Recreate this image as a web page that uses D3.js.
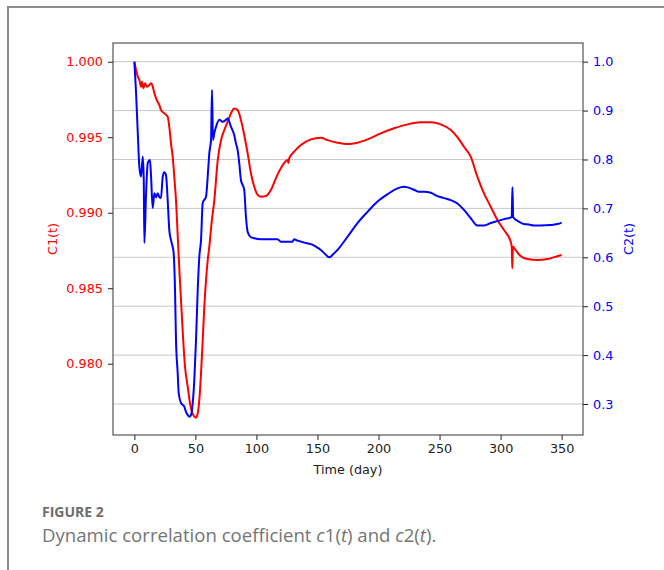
<!DOCTYPE html>
<html>
<head>
<meta charset="utf-8">
<script src="https://cdn.jsdelivr.net/npm/d3@7"></script>
<style>
  body { margin: 0; background: #fff; }
  svg { display: block; }
</style>
</head>
<body>
<div id="chart"></div>
<script>
// c1(t)
const dayC1 = [0, 1.4, 2.8, 4.1, 5.5, 6.3, 7.4, 8.8, 10.1, 12.3, 13.7, 15.1, 16.4, 17.8, 19.1, 20.5, 21.8, 24.5, 27.3, 28.6,
  30, 31.4, 32.7, 34.1, 35.5, 37, 38.5, 40, 41.5, 43.7, 45.6, 47.2, 49.1, 50.5, 51.9, 53.2, 54.6, 56, 57.3, 58.7,
  60.1, 61.4, 63.5, 65.5, 68.3, 71, 73.7, 76.4, 79.1, 81.8, 84.6, 87.3, 90, 92.8, 95.5, 98.2, 101, 103.6, 107.8, 111.8,
  115.9, 120, 125.5, 126.2, 126.8, 130.9, 136.4, 144.6, 152.8, 158.3, 166.4, 174.6, 182.8, 191, 201.9, 212.8, 223.7, 234.6, 242.8, 251,
  259.2, 264.6, 270, 275.5, 281, 286.4, 291.9, 297.4, 302.8, 308.3, 309.1, 309.6, 310.1, 312.3, 316.4, 321.9, 330.1, 338.3, 345.1, 350];
const valC1 = [1.0000, 0.99945, 0.99901, 0.99879, 0.99834, 0.99868, 0.99824, 0.99857, 0.99834, 0.99846, 0.99857, 0.99834, 0.99791, 0.99758, 0.99735, 0.99713, 0.9968, 0.99658, 0.99636, 0.9957,
  0.9946, 0.99371, 0.99238, 0.99084, 0.9885, 0.9860, 0.98377, 0.98157, 0.9798, 0.97848, 0.97737, 0.97682, 0.97649, 0.97642, 0.97671, 0.97759, 0.97936, 0.98157, 0.98377, 0.98554,
  0.98687, 0.98775, 0.9895, 0.99084, 0.99349, 0.99481, 0.99548, 0.99603, 0.99658, 0.99691, 0.9968, 0.99614, 0.99515, 0.99393, 0.99261, 0.99172, 0.99118, 0.99106, 0.99111, 0.9915,
  0.99228, 0.99294, 0.99349, 0.9933, 0.9936, 0.99404, 0.99448, 0.99486, 0.99497, 0.99481, 0.99464, 0.99455, 0.99464, 0.99486, 0.99526, 0.99559, 0.99585, 0.99599, 0.99599, 0.99585,
  0.99548, 0.9950, 0.99437, 0.99371, 0.99238, 0.99128, 0.9904, 0.98952, 0.98885, 0.98808, 0.98775, 0.98632, 0.98775, 0.98753, 0.98713, 0.98693, 0.98687, 0.98693, 0.98709, 0.9872];

// c2(t)
const dayC2 = [0, 1.4, 2.8, 4.1, 5.5, 6.9, 7.7, 8.2, 9.6, 11, 12.8, 13.7, 15, 16.4, 17.8, 19.1, 20.5, 21.8, 23.2, 24.5,
  25.9, 27.3, 28.6, 30, 31.4, 32.2, 33.3, 34.1, 35.5, 36.3, 38.2, 40.9, 42.3, 43.7, 45, 46.4, 47.2, 49.1, 50.5, 51.9,
  53.2, 54.6, 56, 58.7, 60.6, 61.4, 62.8, 63.6, 64.4, 65.5, 66.9, 69.6, 72.3, 75, 76.4, 79.1, 81.8, 83.2, 84.6, 85.9,
  87.3, 90, 91.4, 92.8, 95.5, 98.2, 103.6, 111.8, 117.3, 120, 125.5, 129.6, 130.9, 133.7, 139.1, 144.6, 148.7, 152.8, 156.9, 159.6,
  162.4, 166.4, 174.6, 182.8, 191, 199.2, 207.4, 215.5, 221, 223.7, 229.1, 233.2, 237.3, 242.8, 248.3, 253.7, 259.2, 264.6, 270, 275.5,
  281, 286.4, 291.9, 297.4, 302.8, 309.1, 309.7, 310.3, 315, 319.1, 323.2, 327.3, 332.8, 341, 346.5, 350];
const valC2 = [1.0, 0.936, 0.854, 0.785, 0.765, 0.806, 0.758, 0.629, 0.731, 0.793, 0.799, 0.764, 0.701, 0.731, 0.723, 0.731, 0.723, 0.721, 0.764, 0.774,
  0.768, 0.717, 0.656, 0.635, 0.621, 0.608, 0.533, 0.431, 0.363, 0.3225, 0.302, 0.2945, 0.284, 0.2775, 0.274, 0.2775, 0.288, 0.349, 0.431, 0.533,
  0.601, 0.635, 0.711, 0.724, 0.785, 0.813, 0.840, 0.942, 0.840, 0.854, 0.867, 0.881, 0.877, 0.881, 0.884, 0.867, 0.850, 0.833, 0.819, 0.793,
  0.758, 0.738, 0.683, 0.652, 0.641, 0.639, 0.637, 0.637, 0.637, 0.632, 0.632, 0.632, 0.637, 0.634, 0.630, 0.627, 0.622, 0.615, 0.605, 0.600,
  0.605, 0.615, 0.642, 0.670, 0.693, 0.714, 0.729, 0.741, 0.744, 0.743, 0.738, 0.734, 0.734, 0.732, 0.725, 0.721, 0.717, 0.710, 0.697, 0.680,
  0.665, 0.665, 0.670, 0.674, 0.678, 0.682, 0.743, 0.682, 0.673, 0.668, 0.667, 0.665, 0.665, 0.666, 0.668, 0.671];

const xTicks = [0, 50, 100, 150, 200, 250, 300, 350];
const leftTicks = [0.980, 0.985, 0.990, 0.995, 1.000];
const rightTicks = [0.3, 0.4, 0.5, 0.6, 0.7, 0.8, 0.9, 1.0];

const width = 664, height = 570;
const plot = { left: 113, right: 583, top: 43, bottom: 435 };
const font = "DejaVu Sans, sans-serif";

const svg = d3.select("#chart").append("svg")
  .attr("width", width)
  .attr("height", height);

// outer figure frame (left and top edges only)
svg.append("path")
  .attr("d", "M8,570 L8,7 L664,7")
  .attr("fill", "none")
  .attr("stroke", "#8c8c8c")
  .attr("stroke-width", 2);

const x = d3.scaleLinear().domain([-17.5, 367.5]).range([plot.left, plot.right]);
const yL = d3.scaleLinear().domain([0.97528, 1.00124]).range([plot.bottom, plot.top]);
const yR = d3.scaleLinear().domain([0.2366, 1.0382]).range([plot.bottom, plot.top]);

// horizontal grid from the right axis
svg.append("g")
  .selectAll("line")
  .data(rightTicks)
  .join("line")
  .attr("x1", plot.left).attr("x2", plot.right)
  .attr("y1", d => yR(d)).attr("y2", d => yR(d))
  .attr("stroke", "#c8c8c8")
  .attr("stroke-width", 1);

const c1 = dayC1.map((d, i) => [d, valC1[i]]);
const c2 = dayC2.map((d, i) => [d, valC2[i]]);

svg.append("path")
  .datum(c1)
  .attr("fill", "none")
  .attr("stroke", "#ff0000")
  .attr("stroke-width", 2)
  .attr("stroke-linejoin", "round")
  .attr("d", d3.line().curve(d3.curveMonotoneX).x(d => x(d[0])).y(d => yL(d[1])));

svg.append("path")
  .datum(c2)
  .attr("fill", "none")
  .attr("stroke", "#0000ff")
  .attr("stroke-width", 2)
  .attr("stroke-linejoin", "round")
  .attr("d", d3.line().curve(d3.curveMonotoneX).x(d => x(d[0])).y(d => yR(d[1])));

// axes
const styleAxis = (g, color) => {
  g.select(".domain").remove();
  g.selectAll(".tick line").attr("stroke", "#222");
  g.selectAll(".tick text")
    .attr("fill", color)
    .style("font-family", font)
    .style("font-size", "12.8px");
};

svg.append("g")
  .attr("transform", `translate(0,${plot.bottom})`)
  .call(d3.axisBottom(x).tickValues(xTicks).tickSize(5).tickPadding(4))
  .call(g => styleAxis(g, "#222"));

svg.append("g")
  .attr("transform", `translate(${plot.left},0)`)
  .call(d3.axisLeft(yL).tickValues(leftTicks).tickFormat(d3.format(".3f")).tickSize(5).tickPadding(5))
  .call(g => styleAxis(g, "#ff0000"));

svg.append("g")
  .attr("transform", `translate(${plot.right},0)`)
  .call(d3.axisRight(yR).tickValues(rightTicks).tickFormat(d3.format(".1f")).tickSize(5).tickPadding(5))
  .call(g => styleAxis(g, "#0000ff"));

// plot frame
svg.append("rect")
  .attr("x", plot.left).attr("y", plot.top)
  .attr("width", plot.right - plot.left)
  .attr("height", plot.bottom - plot.top)
  .attr("fill", "none")
  .attr("stroke", "#333")
  .attr("stroke-width", 1);

// axis titles
svg.append("text")
  .attr("x", (plot.left + plot.right) / 2).attr("y", 474)
  .attr("text-anchor", "middle")
  .style("font-family", font).style("font-size", "12.8px")
  .attr("fill", "#222")
  .text("Time (day)");

svg.append("text")
  .attr("transform", `translate(57,${(plot.top + plot.bottom) / 2}) rotate(-90)`)
  .attr("text-anchor", "middle")
  .style("font-family", font).style("font-size", "12.8px")
  .attr("fill", "#ff0000")
  .text("C1(t)");

svg.append("text")
  .attr("transform", `translate(633,${(plot.top + plot.bottom) / 2}) rotate(-90)`)
  .attr("text-anchor", "middle")
  .style("font-family", font).style("font-size", "12.8px")
  .attr("fill", "#0000ff")
  .text("C2(t)");

// caption
svg.append("text")
  .attr("x", 42).attr("y", 517)
  .style("font-family", "Open Sans, sans-serif").style("font-size", "14px").style("font-weight", "bold")
  .attr("fill", "#6e6e6e")
  .text("FIGURE 2");

const cap = svg.append("text")
  .attr("x", 42).attr("y", 542)
  .style("font-family", "Open Sans, sans-serif").style("font-size", "18.6px")
  .attr("fill", "#747474");
cap.append("tspan").text("Dynamic correlation coefficient ");
cap.append("tspan").style("font-style", "italic").text("c");
cap.append("tspan").text("1(");
cap.append("tspan").style("font-style", "italic").text("t");
cap.append("tspan").text(") and ");
cap.append("tspan").style("font-style", "italic").text("c");
cap.append("tspan").text("2(");
cap.append("tspan").style("font-style", "italic").text("t");
cap.append("tspan").text(").");
</script>
</body>
</html>
